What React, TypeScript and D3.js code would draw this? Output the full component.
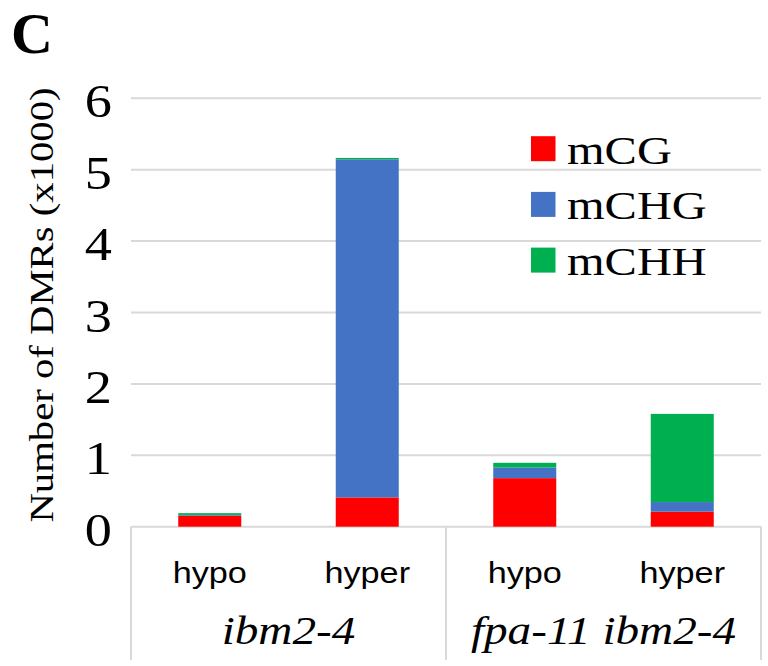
import { useEffect, useRef } from "react";
import * as d3 from "d3";

// values in thousands
const categories = ["hypo", "hyper", "hypo", "hyper"];
const groups = ["ibm2-4", "fpa-11 ibm2-4"];
const groupOf = [0, 0, 1, 1];
const seriesNames = ["mCG", "mCHG", "mCHH"];
const mCG = [0.155, 0.41, 0.68, 0.21];
const mCHG = [0.01, 4.735, 0.15, 0.135];
const mCHH = [0.025, 0.02, 0.065, 1.235];
const yTicks = [0, 1, 2, 3, 4, 5, 6];

const colors = ["#FF0000", "#4472C4", "#00B050"];
const SERIF = "Liberation Serif, Times New Roman, serif";
const SANS = "Liberation Sans, Arial, sans-serif";
const SX = 1.18; // the original text is a bit wide

export default function App() {
  const svgRef = useRef<SVGSVGElement | null>(null);

  useEffect(() => {
    const width = 768;
    const height = 666;
    const left = 131, right = 761, top = 98.3, bottom = 526.7;

    const svg = d3.select(svgRef.current).attr("width", width).attr("height", height);
    svg.selectAll("*").remove();

    const rows = categories.map((c, i) => ({
      idx: String(i),
      mCG: mCG[i],
      mCHG: mCHG[i],
      mCHH: mCHH[i],
    }));

    const x = d3.scaleBand<string>()
      .domain(rows.map(r => r.idx))
      .range([left, right])
      .paddingInner(0.6)
      .paddingOuter(0.3);

    const y = d3.scaleLinear().domain([0, 6]).range([bottom, top]);

    // gridlines
    svg.append("g")
      .selectAll("line")
      .data(yTicks)
      .join("line")
      .attr("x1", left)
      .attr("x2", right)
      .attr("y1", d => y(d))
      .attr("y2", d => y(d))
      .attr("stroke", "#D9D9D9")
      .attr("stroke-width", 2);

    // y tick labels
    svg.append("g")
      .selectAll("text")
      .data(yTicks)
      .join("text")
      .attr("transform", d => `translate(112,${y(d) + 19}) scale(${SX},1)`)
      .attr("text-anchor", "end")
      .style("font-family", SERIF)
      .style("font-size", "46px")
      .attr("fill", "#000")
      .text(d => d);

    // stacked bars
    const stack = d3.stack<any>().keys(seriesNames);
    const layers = stack(rows);

    svg.append("g")
      .selectAll("g")
      .data(layers)
      .join("g")
      .attr("fill", (_, i) => colors[i])
      .selectAll("rect")
      .data(d => d)
      .join("rect")
      .attr("x", d => x(d.data.idx) as number)
      .attr("width", x.bandwidth())
      .attr("y", d => y(d[1]))
      .attr("height", d => y(d[0]) - y(d[1]));

    // category separators below the axis
    const step = x.step();
    const seps = [0, 2, 4];
    svg.append("g")
      .selectAll("line")
      .data(seps)
      .join("line")
      .attr("x1", d => left + d * step)
      .attr("x2", d => left + d * step)
      .attr("y1", bottom)
      .attr("y2", 660)
      .attr("stroke", "#D9D9D9")
      .attr("stroke-width", 2);

    // hypo / hyper labels
    svg.append("g")
      .selectAll("text")
      .data(rows)
      .join("text")
      .attr("transform", d => `translate(${(x(d.idx) as number) + x.bandwidth() / 2},583) scale(${SX},1)`)
      .attr("text-anchor", "middle")
      .style("font-family", SANS)
      .style("font-size", "29px")
      .attr("fill", "#000")
      .text((_, i) => categories[i]);

    // genotype labels
    svg.append("g")
      .selectAll("text")
      .data(groups)
      .join("text")
      .attr("transform", (_, gi) => {
        const idx = groupOf.map((g, i) => (g === gi ? i : -1)).filter(i => i >= 0);
        const cx = left + ((idx[0] + idx[idx.length - 1] + 1) / 2) * step;
        return `translate(${cx},644) scale(${SX},1)`;
      })
      .attr("text-anchor", "middle")
      .style("font-family", SERIF)
      .style("font-style", "italic")
      .style("font-size", "40px")
      .attr("fill", "#000")
      .text(d => d);

    // y axis title
    svg.append("text")
      .attr("transform", `translate(53,305) rotate(-90) scale(${SX},1)`)
      .attr("text-anchor", "middle")
      .style("font-family", SERIF)
      .style("font-size", "34.5px")
      .attr("fill", "#000")
      .text("Number of DMRs (x1000)");

    // panel letter
    svg.append("text")
      .attr("x", 11)
      .attr("y", 53)
      .style("font-family", SERIF)
      .style("font-weight", "bold")
      .style("font-size", "58px")
      .attr("fill", "#000")
      .text("C");

    // legend
    const legend = svg.append("g")
      .selectAll("g")
      .data(seriesNames)
      .join("g")
      .attr("transform", (_, i) => `translate(531,${148.7 + i * 55.7})`);

    legend.append("rect")
      .attr("x", 0)
      .attr("y", -12.5)
      .attr("width", 24.5)
      .attr("height", 25)
      .attr("fill", (_, i) => colors[i]);

    legend.append("text")
      .attr("transform", `translate(36,15) scale(${SX},1)`)
      .style("font-family", SERIF)
      .style("font-size", "41px")
      .attr("fill", "#000")
      .text(d => d);
  }, []);

  return (
    <svg
      ref={svgRef}
      style={{ position: "absolute", left: 0, top: 0, display: "block", background: "#fff" }}
    />
  );
}
